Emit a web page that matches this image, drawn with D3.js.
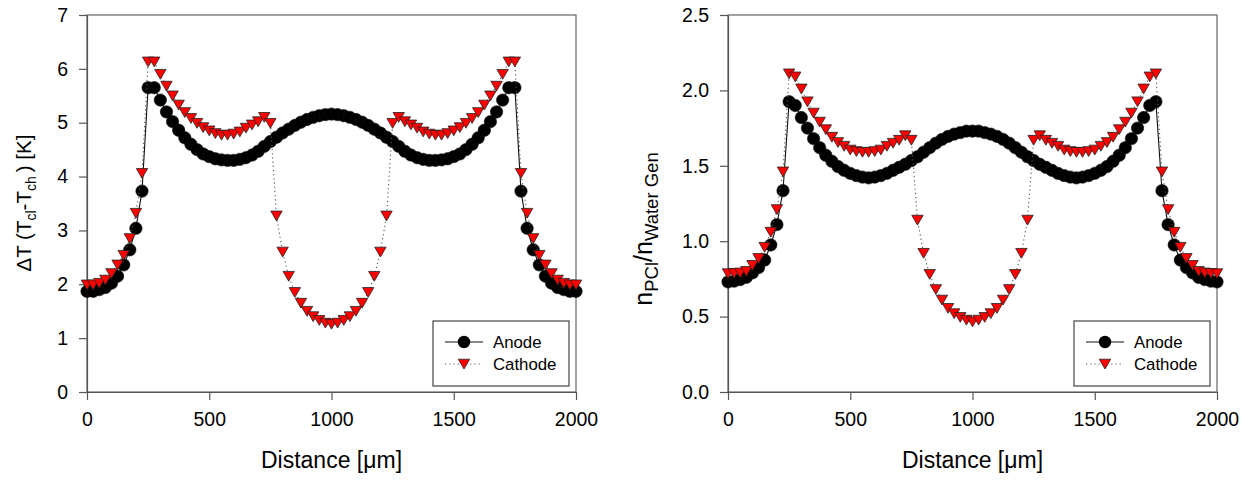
<!DOCTYPE html>
<html>
<head>
<meta charset="utf-8">
<script src="https://cdn.jsdelivr.net/npm/d3@7"></script>
<style>
  body { margin: 0; background: #fff; }
  svg { display: block; font-family: "Liberation Sans", Arial, sans-serif; }
  .axis path, .axis line { stroke: #555; stroke-width: 1.2; }
  .axis text { fill: #000; font-size: 19.5px; font-family: "Liberation Sans", Arial, sans-serif; }
</style>
</head>
<body>
<script>
const w = 1252;
const h = 480;

// distance along the cell [um]
const dist = [0,25,50,75,100,125,150,175,200,225,250,275,300,325,350,375,400,425,450,475,500,
  525,550,575,600,625,650,675,700,725,750,775,800,825,850,875,900,925,950,975,1000,
  1025,1050,1075,1100,1125,1150,1175,1200,1225,1250,1275,1300,1325,1350,1375,1400,1425,1450,1475,1500,
  1525,1550,1575,1600,1625,1650,1675,1700,1725,1750,1775,1800,1825,1850,1875,1900,1925,1950,1975,2000];

// delta T (T_cl - T_ch) [K]
const anodeT = [1.87,1.87,1.90,1.94,2.02,2.15,2.36,2.64,3.04,3.73,5.65,
  5.65,5.42,5.20,5.02,4.86,4.72,4.60,4.50,4.42,4.37,
  4.33,4.31,4.30,4.30,4.32,4.35,4.40,4.47,4.56,4.65,
  4.73,4.81,4.88,4.95,5.01,5.06,5.10,5.13,5.15,5.16,
  5.15,5.13,5.10,5.06,5.01,4.95,4.88,4.81,4.73,4.65,
  4.56,4.47,4.40,4.35,4.32,4.30,4.30,4.31,4.33,4.37,
  4.42,4.50,4.60,4.72,4.86,5.02,5.20,5.42,5.65,5.65,
  3.73,3.04,2.64,2.36,2.15,2.02,1.94,1.90,1.87,1.87];

const cathodeT = [1.99,1.99,2.02,2.08,2.20,2.36,2.54,2.85,3.32,4.06,6.13,
  6.13,5.90,5.68,5.50,5.33,5.19,5.08,4.99,4.91,4.85,
  4.80,4.77,4.77,4.79,4.83,4.90,4.96,5.02,5.10,4.99,
  3.27,2.60,2.15,1.85,1.65,1.50,1.40,1.33,1.28,1.26,
  1.28,1.33,1.40,1.50,1.65,1.85,2.15,2.60,3.27,4.99,
  5.10,5.02,4.96,4.90,4.83,4.79,4.77,4.77,4.80,4.85,
  4.91,4.99,5.08,5.19,5.33,5.50,5.68,5.90,6.13,6.13,
  4.06,3.32,2.85,2.54,2.36,2.20,2.08,2.02,1.99,1.99];

// n_PCl / n_Water Gen
const anodeN = [0.73,0.735,0.745,0.76,0.79,0.825,0.875,0.975,1.11,1.335,1.925,
  1.90,1.82,1.75,1.68,1.62,1.57,1.53,1.495,1.47,1.45,
  1.435,1.425,1.42,1.425,1.435,1.45,1.47,1.49,1.51,1.535,
  1.56,1.59,1.62,1.65,1.675,1.695,1.71,1.72,1.73,1.73,
  1.73,1.72,1.71,1.695,1.675,1.65,1.62,1.59,1.56,1.535,
  1.51,1.49,1.47,1.45,1.435,1.425,1.42,1.425,1.435,1.45,
  1.47,1.495,1.53,1.57,1.62,1.68,1.75,1.82,1.90,1.925,
  1.335,1.11,0.975,0.875,0.825,0.79,0.76,0.745,0.735,0.73];

const cathodeN = [0.785,0.787,0.79,0.80,0.84,0.886,0.96,1.06,1.21,1.46,2.11,
  2.09,2.01,1.925,1.85,1.79,1.74,1.69,1.655,1.63,1.605,
  1.595,1.59,1.59,1.595,1.605,1.63,1.65,1.67,1.70,1.67,
  1.14,0.92,0.78,0.68,0.61,0.555,0.52,0.495,0.477,0.466,
  0.477,0.495,0.52,0.555,0.61,0.68,0.78,0.92,1.14,1.67,
  1.70,1.67,1.65,1.63,1.605,1.595,1.59,1.59,1.595,1.605,
  1.63,1.655,1.69,1.74,1.79,1.85,1.925,2.01,2.09,2.11,
  1.46,1.21,1.06,0.96,0.886,0.84,0.80,0.79,0.787,0.785];

const xTicks = [0, 500, 1000, 1500, 2000];
const yTicksT = [0, 1, 2, 3, 4, 5, 6, 7];
const yTicksN = [0, 0.5, 1.0, 1.5, 2.0, 2.5];

const seriesNames = ["Anode", "Cathode"];

var svg = d3.select("body")
            .append("svg")
            .attr("width", w)
            .attr("height", h);

const triPath = "M-5.7,-4.8L5.7,-4.8L0,5Z";

function drawPanel(left, right, yMax, yTicks, yFmt, anode, cathode) {
  const top = 15, bottom = 392;

  const xScale = d3.scaleLinear().domain([0, 2000]).range([left, right]);
  const yScale = d3.scaleLinear().domain([0, yMax]).range([bottom, top]);

  const g = svg.append("g");

  // frame
  g.append("rect")
   .attr("x", left).attr("y", top)
   .attr("width", right - left).attr("height", bottom - top)
   .attr("fill", "none")
   .attr("stroke", "#666")
   .attr("stroke-width", 1.2);

  g.append("g")
   .attr("class", "axis")
   .attr("transform", "translate(0," + bottom + ")")
   .call(d3.axisBottom(xScale).tickValues(xTicks).tickSize(8).tickSizeOuter(0).tickPadding(12.5).tickFormat(d3.format("d")));

  g.append("g")
   .attr("class", "axis")
   .attr("transform", "translate(" + left + ",0)")
   .call(d3.axisLeft(yScale).tickValues(yTicks).tickSize(8).tickSizeOuter(0).tickPadding(11).tickFormat(yFmt));

  const pts = (vals) => dist.map((d, i) => [d, vals[i]]);
  const line = d3.line().x(d => xScale(d[0])).y(d => yScale(d[1]));

  // anode: solid line + black circles
  g.append("path")
   .attr("d", line(pts(anode)))
   .attr("fill", "none")
   .attr("stroke", "#111")
   .attr("stroke-width", 1.1);

  g.selectAll(".an")
   .data(pts(anode))
   .enter()
   .append("circle")
   .attr("class", "an")
   .attr("cx", d => xScale(d[0]))
   .attr("cy", d => yScale(d[1]))
   .attr("r", 6.2)
   .attr("fill", "#000")
   .attr("stroke", "#111")
   .attr("stroke-width", 0.6);

  // cathode: dotted line + red down triangles
  g.append("path")
   .attr("d", line(pts(cathode)))
   .attr("fill", "none")
   .attr("stroke", "#555")
   .attr("stroke-width", 1.1)
   .attr("stroke-dasharray", "1.2,3");

  g.selectAll(".ca")
   .data(pts(cathode))
   .enter()
   .append("path")
   .attr("class", "ca")
   .attr("d", triPath)
   .attr("transform", d => "translate(" + xScale(d[0]) + "," + yScale(d[1]) + ")")
   .attr("fill", "#ff0000")
   .attr("stroke", "#222")
   .attr("stroke-width", 0.8);

  // x title
  g.append("text")
   .attr("x", (left + right) / 2)
   .attr("y", 468)
   .attr("text-anchor", "middle")
   .attr("font-size", 23)
   .attr("fill", "#000")
   .text("Distance [\u03bcm]");

  // legend
  const lx = right - 143, ly = 321;
  g.append("rect")
   .attr("x", lx).attr("y", ly)
   .attr("width", 136).attr("height", 65)
   .attr("fill", "#fff")
   .attr("stroke", "#444")
   .attr("stroke-width", 1.2);

  g.append("line")
   .attr("x1", lx + 12).attr("x2", lx + 50)
   .attr("y1", ly + 21).attr("y2", ly + 21)
   .attr("stroke", "#111").attr("stroke-width", 1.1);
  g.append("circle")
   .attr("cx", lx + 31).attr("cy", ly + 21).attr("r", 6.2)
   .attr("fill", "#000");
  g.append("line")
   .attr("x1", lx + 12).attr("x2", lx + 50)
   .attr("y1", ly + 43).attr("y2", ly + 43)
   .attr("stroke", "#555").attr("stroke-width", 1.1)
   .attr("stroke-dasharray", "1.2,3");
  g.append("path")
   .attr("d", triPath)
   .attr("transform", "translate(" + (lx + 31) + "," + (ly + 43) + ")")
   .attr("fill", "#ff0000").attr("stroke", "#222").attr("stroke-width", 0.8);

  seriesNames.forEach((name, i) => {
    g.append("text")
     .attr("x", lx + 60)
     .attr("y", ly + 27 + i * 22)
     .attr("font-size", 16.8)
     .attr("fill", "#000")
     .text(name);
  });

  return g;
}

const g1 = drawPanel(87, 576, 7, yTicksT, d3.format("d"), anodeT, cathodeT);
const g2 = drawPanel(728, 1217, 2.5, yTicksN, d3.format(".1f"), anodeN, cathodeN);

// y titles with subscripts
const t1 = g1.append("text")
  .attr("transform", "translate(31,203) rotate(-90)")
  .attr("text-anchor", "middle")
  .attr("font-size", 20.5)
  .attr("fill", "#000");
t1.append("tspan").text("\u0394T (T");
t1.append("tspan").attr("font-size", 14).attr("dy", 5).text("cl");
t1.append("tspan").attr("dy", -5).text("-T");
t1.append("tspan").attr("font-size", 14).attr("dy", 5).text("ch");
t1.append("tspan").attr("dy", -5).text("\u2009) [K]");

const t2 = g2.append("text")
  .attr("transform", "translate(652,229) rotate(-90)")
  .attr("text-anchor", "middle")
  .attr("font-size", 25)
  .attr("fill", "#000");
t2.append("tspan").text("n");
t2.append("tspan").attr("font-size", 18.5).attr("dy", 6).text("PCl");
t2.append("tspan").attr("dy", -6).text("/n");
t2.append("tspan").attr("font-size", 18.5).attr("dy", 6).text("Water Gen");
</script>
</body>
</html>
